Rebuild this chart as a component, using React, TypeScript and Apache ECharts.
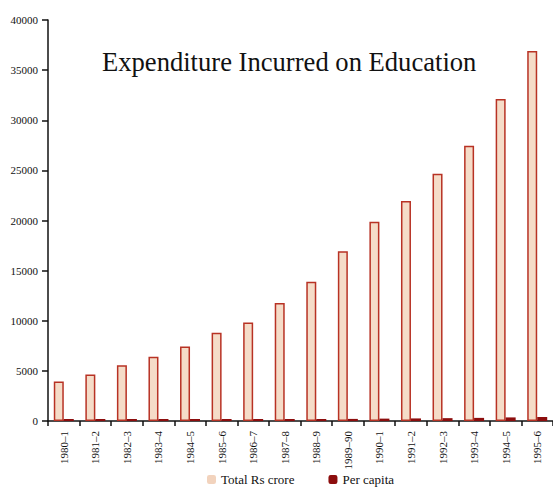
import React, { useEffect, useRef } from "react";
import * as echarts from "echarts";

const categories = [
  "1980\u20131", "1981\u20132", "1982\u20133", "1983\u20134", "1984\u20135", "1985\u20136",
  "1986\u20137", "1987\u20138", "1988\u20139", "1989\u201390", "1990\u20131", "1991\u20132",
  "1992\u20133", "1993\u20134", "1994\u20135", "1995\u20136",
];
const totalRsCrore = [
  3950, 4650, 5550, 6420, 7430, 8800, 9830, 11770, 13900, 16930, 19880, 21950,
  24670, 27450, 32120, 36920,
];
const perCapita = [
  58, 66, 77, 88, 102, 117, 129, 152, 176, 209, 237, 257, 284, 311, 358, 400,
];
const seriesNames = ["Total Rs crore", "Per capita"];
const titleText = "Expenditure Incurred on Education";

const SERIF = "'Liberation Serif', 'Times New Roman', serif";

export default function App() {
  const ref = useRef<HTMLDivElement>(null);
  useEffect(() => {
    document.body.style.margin = "0";
    if (!ref.current) return;
    const chart = echarts.init(ref.current, null, { renderer: "svg" });
    chart.setOption({
      animation: false,
      backgroundColor: "#ffffff",
      title: {
        text: titleText,
        left: 97,
        top: 43,
        textStyle: { fontFamily: SERIF, fontSize: 26.6, fontWeight: "normal", color: "#111" },
      },
      legend: {
        top: 468,
        left: 202,
        itemWidth: 9,
        itemHeight: 9,
        itemGap: 34,
        textStyle: { fontFamily: SERIF, fontSize: 13, color: "#111" },
        data: [
          { name: seriesNames[0], itemStyle: { borderWidth: 0, color: "#f2d3bd" } },
          { name: seriesNames[1], itemStyle: { borderWidth: 0 } },
        ],
      },
      grid: { left: 48, right: 0, top: 20, bottom: 66, containLabel: false },
      xAxis: {
        type: "category",
        data: categories,
        axisLine: { lineStyle: { color: "#111", width: 1.5 } },
        axisTick: { show: true, length: 5, lineStyle: { color: "#111", width: 1.5 } },
        axisLabel: {
          rotate: 90,
          margin: 10,
          fontFamily: SERIF,
          fontSize: 11,
          color: "#111",
          interval: 0,
        },
      },
      yAxis: {
        type: "value",
        min: 0,
        max: 40000,
        interval: 5000,
        splitLine: { show: false },
        axisLine: { show: true, lineStyle: { color: "#111", width: 1.5 } },
        axisTick: { show: true, length: 6, lineStyle: { color: "#111", width: 1.5 } },
        axisLabel: {
          fontFamily: SERIF,
          fontSize: 11,
          color: "#111",
          margin: 10,
          formatter: (v: number) => String(v),
        },
      },
      series: [
        {
          name: seriesNames[0],
          type: "bar",
          data: totalRsCrore,
          barWidth: 10,
          barGap: "0%",
          itemStyle: { color: "#f5dcc8", borderColor: "#b83224", borderWidth: 1.5 },
        },
        {
          name: seriesNames[1],
          type: "bar",
          data: perCapita,
          barWidth: 10,
          barMinHeight: 2,
          itemStyle: { color: "#8c0d0d" },
        },
      ],
    });
    return () => chart.dispose();
  }, []);
  return (
    <div
      ref={ref}
      style={{ width: 553, height: 487, position: "absolute", left: 0, top: 0 }}
    />
  );
}
